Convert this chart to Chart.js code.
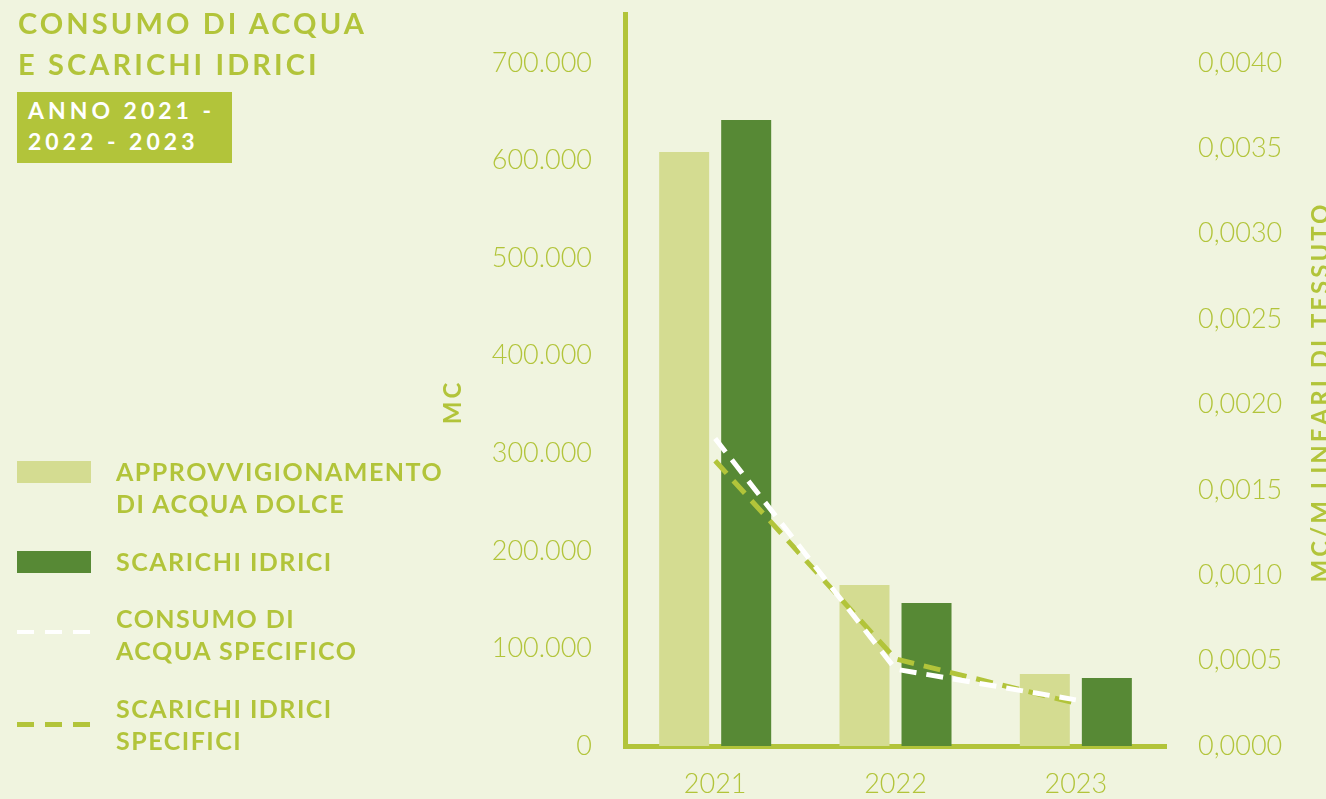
<!DOCTYPE html>
<html lang="it">
<head>
<meta charset="utf-8">
<title>Consumo di acqua e scarichi idrici</title>
<script src="https://cdn.jsdelivr.net/npm/chart.js@4.4.1/dist/chart.umd.min.js"></script>
<style>
  body {
    margin: 0;
    width: 1326px;
    height: 799px;
    overflow: hidden;
    position: relative;
    background: #f0f4df;
    font-family: 'Lato', 'DejaVu Sans', sans-serif;
  }
  #grafico { position: absolute; left: 0; top: 0; }
  .titolo {
    position: absolute; left: 18px; top: 2px;
    font: 700 29px/41px 'Lato', sans-serif;
    letter-spacing: 3.1px;
    color: #b2c43a;
    z-index: 2;
  }
  .badge {
    position: absolute; left: 17px; top: 92px;
    width: 215px; height: 71px;
    box-sizing: border-box;
    padding: 3px 0 0 11px;
    background: #b2c43a;
    color: #fff;
    font: 700 23px/31px 'Lato', sans-serif;
    letter-spacing: 4px;
    z-index: 2;
  }
  .voce {
    position: absolute; left: 116px;
    font: 700 25px/32px 'Lato', sans-serif;
    letter-spacing: 1.5px;
    color: #b2c43a;
    z-index: 2;
  }
  .swatch { position: absolute; left: 17px; width: 74px; z-index: 2; }
</style>
</head>
<body>
<canvas id="grafico" width="1326" height="799"></canvas>

<div class="titolo">CONSUMO DI ACQUA<br>E SCARICHI IDRICI</div>
<div class="badge">ANNO 2021 -<br>2022 - 2023</div>

<div class="swatch" style="top:461px;height:22px;background:#d4dc91"></div>
<div class="voce" style="top:455px">APPROVVIGIONAMENTO<br>DI ACQUA DOLCE</div>

<div class="swatch" style="top:551px;height:22px;background:#578935"></div>
<div class="voce" style="top:545px">SCARICHI IDRICI</div>

<div class="swatch" style="top:630px;height:4px;background:repeating-linear-gradient(90deg,#fff 0 17px,transparent 17px 28px)"></div>
<div class="voce" style="top:602px">CONSUMO DI<br>ACQUA SPECIFICO</div>

<div class="swatch" style="top:722px;height:5px;background:repeating-linear-gradient(90deg,#b2c43a 0 17px,transparent 17px 28px)"></div>
<div class="voce" style="top:692px">SCARICHI IDRICI<br>SPECIFICI</div>

<script>
// dati
const anni = ['2021', '2022', '2023'];
const approvvigionamento = [608600, 165000, 73800];   // mc
const scarichi = [641400, 146500, 69700];             // mc
const consumoSpecifico = [0.00180, 0.00045, 0.00027]; // mc/m lineari
const scarichiSpecifici = [0.00167, 0.00051, 0.00025];

// tacche degli assi
const tickMC = [0, 100000, 200000, 300000, 400000, 500000, 600000, 700000];
const tickSpecifico = [0, 0.0005, 0.0010, 0.0015, 0.0020, 0.0025, 0.0030, 0.0035, 0.0040];

const verde = '#b2c43a';

function migliaia(v) {
  return String(Math.round(v)).replace(/\B(?=(\d{3})+(?!\d))/g, '.');
}

// titoli degli assi (letti dal basso verso l'alto)
const titoliAssi = {
  id: 'titoliAssi',
  afterDraw(chart) {
    const ctx = chart.ctx;
    ctx.save();
    ctx.fillStyle = verde;
    ctx.font = "700 24px 'Lato', sans-serif";
    ctx.letterSpacing = '3px';
    ctx.textAlign = 'center';
    ctx.textBaseline = 'middle';
    [['MC', 453, 402], ['MC/M LINEARI DI TESSUTO', 1321, 392]].forEach(t => {
      ctx.save();
      ctx.translate(t[1], t[2]);
      ctx.rotate(-Math.PI / 2);
      ctx.fillText(t[0], 0, 0);
      ctx.restore();
    });
    ctx.restore();
  }
};

const fontTick = { family: 'Lato', size: 27, weight: 300 };

const ctx = document.getElementById('grafico').getContext('2d');
new Chart(ctx, {
  data: {
    labels: anni,
    datasets: [
      {
        type: 'line',
        label: 'Consumo di acqua specifico',
        data: consumoSpecifico,
        yAxisID: 'y1',
        borderColor: '#ffffff',
        borderWidth: 5,
        borderDash: [17, 10],
        pointRadius: 0,
        tension: 0,
        order: 0
      },
      {
        type: 'line',
        label: 'Scarichi idrici specifici',
        data: scarichiSpecifici,
        yAxisID: 'y1',
        borderColor: verde,
        borderWidth: 5,
        borderDash: [17, 10],
        pointRadius: 0,
        tension: 0,
        order: 0
      },
      {
        type: 'bar',
        label: 'Approvvigionamento di acqua dolce',
        data: approvvigionamento,
        yAxisID: 'y',
        backgroundColor: '#d4dc91',
        categoryPercentage: 0.688,
        barPercentage: 0.806,
        order: 1
      },
      {
        type: 'bar',
        label: 'Scarichi idrici',
        data: scarichi,
        yAxisID: 'y',
        backgroundColor: '#578935',
        categoryPercentage: 0.688,
        barPercentage: 0.806,
        order: 1
      }
    ]
  },
  options: {
    responsive: false,
    animation: false,
    layout: { padding: { top: 14, left: 0, right: 0, bottom: 0 } },
    plugins: {
      legend: { display: false },
      tooltip: { enabled: false }
    },
    scales: {
      x: {
        grid: { display: false },
        border: { display: true, color: verde, width: 5 },
        ticks: { color: verde, padding: 14, font: fontTick },
        afterFit(s) {
          s.height = 53;
          s.paddingLeft = 0;
          s.paddingRight = 0;
        }
      },
      y: {
        position: 'left',
        min: 0,
        max: 750000,
        grid: { display: false },
        border: { display: true, color: verde, width: 5 },
        ticks: {
          color: verde,
          padding: 25,
          font: fontTick,
          callback: v => migliaia(v)
        },
        afterBuildTicks(s) { s.ticks = tickMC.map(v => ({ value: v })); },
        afterFit(s) {
          s.width = 625;
          s.paddingTop = 0;
          s.paddingBottom = 0;
        }
      },
      y1: {
        position: 'right',
        min: 0,
        max: 0.004 * 750 / 700,
        grid: { display: false },
        border: { display: false },
        ticks: {
          color: verde,
          padding: 24,
          font: fontTick,
          callback: v => v.toFixed(4).replace('.', ',')
        },
        afterBuildTicks(s) { s.ticks = tickSpecifico.map(v => ({ value: v })); },
        afterFit(s) {
          s.width = 160;
          s.paddingTop = 0;
          s.paddingBottom = 0;
        }
      }
    }
  },
  plugins: [titoliAssi]
});
</script>
</body>
</html>
